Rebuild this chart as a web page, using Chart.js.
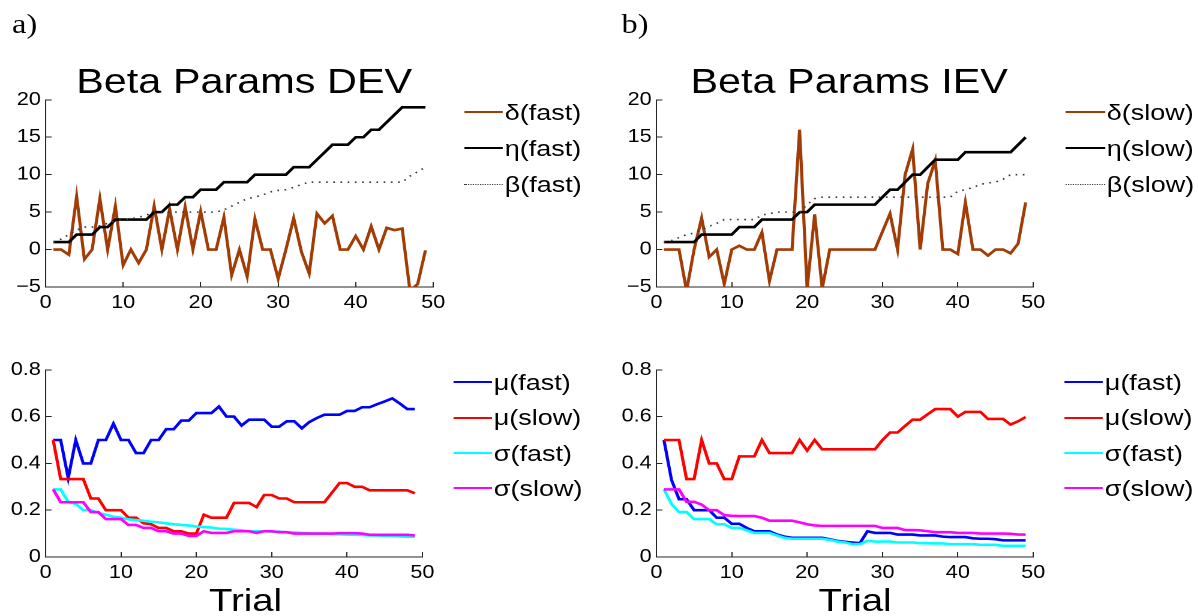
<!DOCTYPE html>
<html>
<head>
<meta charset="utf-8">
<script src="https://cdn.jsdelivr.net/npm/chart.js@4.4.1/dist/chart.umd.min.js"></script>
<style>
  html, body { margin: 0; padding: 0; background: #fff; overflow: hidden; }
  #fig { position: absolute; left: 0; top: 0; width: 999px; height: 616px;
         transform: scaleX(1.2); transform-origin: 0 0;
         font-family: "Liberation Sans", Arial, sans-serif; color: #000; }
  #fig canvas { position: absolute; }
  .txt { position: absolute; white-space: nowrap; }
  .title { font-size: 34.5px; line-height: 34.5px; width: 400px; text-align: center; }
  .tag { font-family: "Liberation Serif", "Times New Roman", serif; font-size: 27px; line-height: 27px; }
  .xlab { font-size: 32px; line-height: 32px; width: 200px; text-align: center; }
  .key { position: absolute; height: 0; }
  .keytxt { position: absolute; font-size: 22.5px; line-height: 22.5px; white-space: nowrap; }
</style>
</head>
<body>
<div id="fig">
  <div class="txt tag" style="left:10px; top:11px;">a)</div>
  <div class="txt tag" style="left:518px; top:11px;">b)</div>
  <div class="txt title" style="left:3.5px; top:64px;">Beta Params DEV</div>
  <div class="txt title" style="left:507.7px; top:64px;">Beta Params IEV</div>
  <div class="txt xlab" style="left:104.6px; top:584px;">Trial</div>
  <div class="txt xlab" style="left:612.5px; top:584px;">Trial</div>
  <canvas id="tl" width="381" height="237" style="left:0px; top:80px; width:381px; height:237px;"></canvas>
  <canvas id="tr" width="372" height="237" style="left:508.5px; top:80px; width:372px; height:237px;"></canvas>
  <canvas id="bl" width="372" height="237" style="left:0px; top:350px; width:372px; height:237px;"></canvas>
  <canvas id="br" width="372" height="237" style="left:508.5px; top:350px; width:372px; height:237px;"></canvas>
</div>
<script>
// trial numbers (x values)
const trials = [1, 2, 3, 4, 5, 6, 7, 8, 9, 10, 11, 12, 13, 14, 15, 16, 17, 18, 19, 20,
  21, 22, 23, 24, 25, 26, 27, 28, 29, 30, 31, 32, 33, 34, 35, 36, 37, 38, 39, 40,
  41, 42, 43, 44, 45, 46, 47, 48, 49];

// a) beta params, fast
const deltaFast = [0, 0, -0.7, 7.1, -1.3, 0, 6.8, 0, 5.8, -2.1, 0, -1.8, 0, 5.8, 0, 5.4, 0, 5.7, 0, 5.1,
  0, 0, 4.3, -3.4, 0, -3.6, 4.1, 0, 0, -3.9, 0, 4.2, -0.3, -3.2, 4.8, 3.5, 4.5, 0, 0, 1.8,
  0, 3.1, 0, 2.9, 2.6, 2.8, -5.5, -4.6, -0.1];
const etaFast = [1, 1, 1, 2, 2, 2, 3, 3, 4, 4, 4, 4, 4, 5, 5, 6, 6, 7, 7, 8,
  8, 8, 9, 9, 9, 9, 10, 10, 10, 10, 10, 11, 11, 11, 12, 13, 14, 14, 14, 15,
  15, 16, 16, 17, 18, 19, 19, 19, 19];
const betaFast = [1, 1.4, 2, 2.6, 3, 3, 3.2, 3.5, 3.8, 4, 4.1, 4.3, 4.6, 5, 5, 5, 5, 5, 5, 5,
  5, 5, 5.3, 5.8, 6.3, 6.8, 7, 7.3, 7.7, 7.9, 8, 8.3, 8.7, 9, 9, 9, 9, 9, 9, 9,
  9, 9, 9, 9, 9, 9, 9.8, 10.4, 11];

// b) beta params, slow
const deltaSlow = [0, 0, 0, -5.5, 0, 4.2, -1, 0, -4.6, 0, 0.5, 0, 0, 2.3, -4.2, 0, 0, 0, 16, -5.2,
  4.7, -5.2, 0, 0, 0, 0, 0, 0, 0, 2.4, 4.8, 0, 10, 13.4, 0, 8.8, 11.9, 0, 0, -0.6,
  6.3, 0, 0, -0.8, 0, 0, -0.5, 0.8, 6.3];
const etaSlow = [1, 1, 1, 1, 1, 2, 2, 2, 2, 2, 3, 3, 3, 4, 4, 4, 4, 4, 5, 5,
  6, 6, 6, 6, 6, 6, 6, 6, 6, 7, 8, 8, 9, 10, 10, 11, 12, 12, 12, 12,
  13, 13, 13, 13, 13, 13, 13, 14, 15];
const betaSlow = [1, 1.2, 1.6, 2, 2.2, 2.6, 3.1, 3.5, 4, 4, 4, 4, 4, 4.6, 4.8, 5, 5, 5, 5, 6,
  6.8, 7, 7, 7, 7, 7, 7, 7, 7, 7, 7, 7, 7, 7, 7, 7, 7, 7, 7, 7.8,
  8, 8.3, 8.7, 8.9, 9, 9.4, 10, 10, 10];

// a) mu / sigma
const muFastA = [0.5, 0.5, 0.337, 0.5, 0.4, 0.4, 0.5, 0.5, 0.57, 0.5, 0.5, 0.444, 0.444, 0.5, 0.5, 0.546, 0.546, 0.583, 0.583, 0.615,
  0.615, 0.615, 0.643, 0.6, 0.6, 0.562, 0.587, 0.587, 0.587, 0.557, 0.557, 0.58, 0.58, 0.55, 0.577, 0.594, 0.608, 0.608, 0.608, 0.624,
  0.624, 0.64, 0.64, 0.653, 0.665, 0.678, 0.656, 0.632, 0.632];
const muSlowA = [0.5, 0.333, 0.333, 0.333, 0.333, 0.25, 0.25, 0.2, 0.2, 0.2, 0.168, 0.168, 0.144, 0.14, 0.124, 0.124, 0.11, 0.11, 0.1, 0.1,
  0.181, 0.168, 0.168, 0.168, 0.231, 0.231, 0.231, 0.213, 0.265, 0.265, 0.25, 0.25, 0.234, 0.234, 0.234, 0.234, 0.234, 0.275, 0.316, 0.316,
  0.3, 0.3, 0.285, 0.285, 0.285, 0.285, 0.285, 0.285, 0.272];
const sigFastA = [0.289, 0.289, 0.236, 0.227, 0.2, 0.2, 0.188, 0.181, 0.172, 0.168, 0.161, 0.158, 0.155, 0.151, 0.148, 0.144, 0.14, 0.137, 0.135, 0.13,
  0.128, 0.126, 0.121, 0.12, 0.117, 0.114, 0.11, 0.11, 0.11, 0.108, 0.108, 0.105, 0.105, 0.103, 0.1, 0.1, 0.1, 0.098, 0.097, 0.096,
  0.095, 0.094, 0.092, 0.092, 0.09, 0.09, 0.088, 0.087, 0.086];
const sigSlowA = [0.289, 0.234, 0.234, 0.234, 0.234, 0.192, 0.192, 0.162, 0.162, 0.162, 0.137, 0.137, 0.124, 0.124, 0.11, 0.11, 0.1, 0.1, 0.09, 0.09,
  0.11, 0.103, 0.103, 0.103, 0.11, 0.11, 0.11, 0.103, 0.11, 0.11, 0.106, 0.106, 0.1, 0.1, 0.1, 0.1, 0.1, 0.1, 0.102, 0.102,
  0.102, 0.1, 0.095, 0.095, 0.095, 0.095, 0.095, 0.095, 0.092];

// b) mu / sigma
const muFastB = [0.5, 0.33, 0.247, 0.247, 0.2, 0.2, 0.2, 0.168, 0.168, 0.142, 0.142, 0.124, 0.11, 0.11, 0.11, 0.096, 0.087, 0.082, 0.082, 0.082,
  0.082, 0.082, 0.076, 0.069, 0.065, 0.062, 0.059, 0.11, 0.103, 0.103, 0.103, 0.096, 0.096, 0.096, 0.092, 0.092, 0.092, 0.087, 0.085, 0.085,
  0.085, 0.08, 0.078, 0.078, 0.076, 0.071, 0.071, 0.071, 0.071];
const muSlowB = [0.5, 0.5, 0.5, 0.333, 0.333, 0.5, 0.4, 0.4, 0.333, 0.333, 0.43, 0.43, 0.43, 0.5, 0.444, 0.444, 0.444, 0.444, 0.5, 0.455,
  0.5, 0.46, 0.46, 0.46, 0.46, 0.46, 0.46, 0.46, 0.46, 0.5, 0.532, 0.532, 0.56, 0.587, 0.587, 0.61, 0.632, 0.632, 0.632, 0.6,
  0.62, 0.62, 0.62, 0.59, 0.59, 0.59, 0.566, 0.58, 0.598];
const sigFastB = [0.289, 0.227, 0.192, 0.192, 0.162, 0.162, 0.162, 0.14, 0.14, 0.124, 0.124, 0.114, 0.103, 0.103, 0.103, 0.092, 0.082, 0.078, 0.078, 0.078,
  0.078, 0.078, 0.073, 0.066, 0.062, 0.055, 0.055, 0.069, 0.066, 0.066, 0.066, 0.062, 0.062, 0.062, 0.059, 0.059, 0.058, 0.058, 0.055, 0.055,
  0.055, 0.055, 0.052, 0.052, 0.052, 0.048, 0.048, 0.048, 0.048];
const sigSlowB = [0.289, 0.289, 0.289, 0.236, 0.236, 0.224, 0.2, 0.2, 0.179, 0.176, 0.175, 0.175, 0.175, 0.168, 0.155, 0.155, 0.155, 0.155, 0.148, 0.14,
  0.135, 0.133, 0.133, 0.133, 0.133, 0.133, 0.133, 0.133, 0.133, 0.124, 0.124, 0.124, 0.115, 0.115, 0.114, 0.11, 0.106, 0.106, 0.106, 0.103,
  0.103, 0.103, 0.1, 0.1, 0.1, 0.1, 0.099, 0.096, 0.096];

const BROWN = '#a23c06';
const DOTS = '#3a3a3a';

Chart.defaults.font.family = '"Liberation Sans", Arial, sans-serif';
Chart.defaults.font.size = 18;
Chart.defaults.color = '#000';

function series(label, data, color, dotted) {
  return {
    label: label,
    data: data,
    borderColor: color,
    borderWidth: dotted ? 1.6 : 2.6,
    borderDash: dotted ? [1.4, 4.6] : undefined,
    pointRadius: 0,
    tension: 0,
    fill: false
  };
}

function fmtTick(v) {
  const r = Math.round(v * 10) / 10;
  return r < 0 ? '\u2212' + (-r) : String(r);
}

function makeChart(id, datasets, ymin, ymax, ystep, padTop) {
  // later datasets drawn on top, like the original
  datasets.forEach((d, i) => { d.order = datasets.length - i; });
  return new Chart(document.getElementById(id), {
    type: 'line',
    data: { labels: trials, datasets: datasets },
    options: {
      responsive: false,
      animation: false,
      devicePixelRatio: 2,
      layout: { padding: { top: padTop, right: 12, left: 0, bottom: 0 } },
      plugins: { legend: { display: false }, tooltip: { enabled: false } },
      scales: {
        x: {
          type: 'linear', min: 0, max: 50,
          ticks: { stepSize: 10, padding: 10, maxRotation: 0, callback: fmtTick },
          grid: { drawOnChartArea: false, drawTicks: true, tickLength: -5, tickColor: '#262626' },
          border: { color: '#262626', width: 1 },
          afterFit: s => { s.height = 30; }
        },
        y: {
          min: ymin, max: ymax,
          ticks: { stepSize: ystep, padding: 9, callback: fmtTick },
          grid: { drawOnChartArea: false, drawTicks: true, tickLength: -5, tickColor: '#262626' },
          border: { color: '#262626', width: 1 },
          afterFit: s => { s.width = 38; }
        }
      }
    }
  });
}

// legend built from the chart's own datasets
function addLegend(chart, left, top, gap) {
  const fig = document.getElementById('fig');
  chart.data.datasets.forEach((ds, i) => {
    const y = top + i * gap;
    const key = document.createElement('div');
    key.className = 'key';
    key.style.left = left + 'px';
    key.style.width = '32.5px';
    if (ds.borderDash) {
      key.style.top = (y - 0.8) + 'px';
      key.style.borderTop = '1.6px dotted ' + ds.borderColor;
    } else {
      key.style.top = (y - 1.3) + 'px';
      key.style.borderTop = '2.6px solid ' + ds.borderColor;
    }
    fig.appendChild(key);
    const t = document.createElement('div');
    t.className = 'keytxt';
    t.style.left = (left + 34) + 'px';
    t.style.top = (y - 10.5) + 'px';
    t.textContent = ds.label;
    fig.appendChild(t);
  });
}

const tl = makeChart('tl', [
  series('\u03b4(fast)', deltaFast, BROWN),
  series('\u03b7(fast)', etaFast, '#000'),
  series('\u03b2(fast)', betaFast, DOTS, true)
], -5, 20, 5, 12);

const tr = makeChart('tr', [
  series('\u03b4(slow)', deltaSlow, BROWN),
  series('\u03b7(slow)', etaSlow, '#000'),
  series('\u03b2(slow)', betaSlow, DOTS, true)
], -5, 20, 5, 12);

const bl = makeChart('bl', [
  series('\u03bc(fast)', muFastA, '#0000ff'),
  series('\u03bc(slow)', muSlowA, '#ff0000'),
  series('\u03c3(fast)', sigFastA, '#00ffff'),
  series('\u03c3(slow)', sigSlowA, '#ff00ff')
], 0, 0.8, 0.2, 13);

const br = makeChart('br', [
  series('\u03bc(fast)', muFastB, '#0000ff'),
  series('\u03bc(slow)', muSlowB, '#ff0000'),
  series('\u03c3(fast)', sigFastB, '#00ffff'),
  series('\u03c3(slow)', sigSlowB, '#ff00ff')
], 0, 0.8, 0.2, 13);

addLegend(tl, 386.7, 112.3, 36);
addLegend(tr, 888.3, 112.3, 36);
addLegend(bl, 377.5, 382.7, 35.2);
addLegend(br, 886.7, 382.7, 35.2);
</script>
</body>
</html>
